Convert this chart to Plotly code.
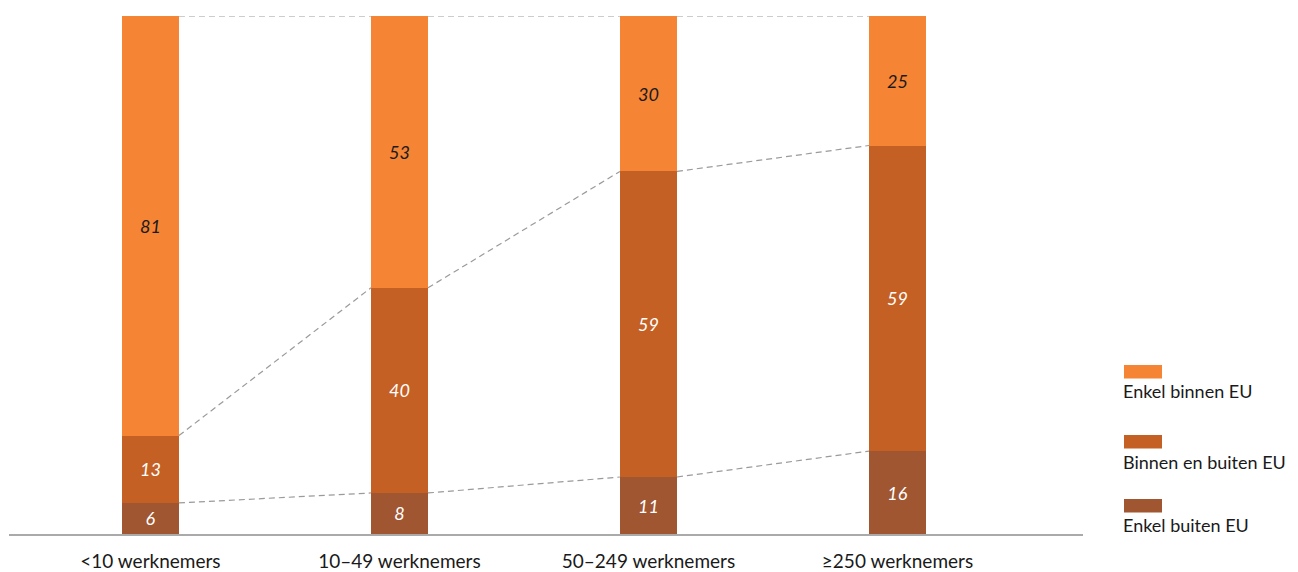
import plotly.graph_objects as go

categories = ["<10 werknemers", "10–49 werknemers", "50–249 werknemers", "≥250 werknemers"]
series_names = ["Enkel buiten EU", "Binnen en buiten EU", "Enkel binnen EU"]
enkel_buiten = [6, 8, 11, 16]
binnen_en_buiten = [13, 40, 59, 59]
enkel_binnen = [81, 53, 30, 25]

colors = {"Enkel buiten EU": "#A05631", "Binnen en buiten EU": "#C56024", "Enkel binnen EU": "#F58435"}
label_colors = {"Enkel buiten EU": "white", "Binnen en buiten EU": "white", "Enkel binnen EU": "#1a1a1a"}

series = [enkel_buiten, binnen_en_buiten, enkel_binnen]
totals = [sum(v) for v in zip(*series)]
norm = [[v / t * 100 for v, t in zip(s, totals)] for s in series]

FONT = "Lato"
W, H = 1298, 572
OFF = 8  # page body margin offset
ML, MR, MT, MB = 1, 223, 8, 46
BW = 0.229
xs = list(range(len(categories)))

fig = go.Figure()
for name, vals, nvals in zip(series_names, series, norm):
    fig.add_trace(go.Bar(
        x=xs, y=nvals, name=name, width=BW,
        marker=dict(color=colors[name], line=dict(width=0)),
        text=[str(v) for v in vals], textposition="inside", insidetextanchor="middle",
        textangle=0,
        textfont=dict(family=FONT, size=18, color=label_colors[name], style="italic"),
        hoverinfo="skip", showlegend=False,
    ))

# dashed connectors between cumulative boundaries
cum = []
run = [0] * len(categories)
for nvals in norm:
    run = [r + v for r, v in zip(run, nvals)]
    cum.append(list(run))
for level in cum:
    for i in range(len(categories) - 1):
        fig.add_trace(go.Scatter(
            x=[xs[i] + BW / 2, xs[i + 1] - BW / 2], y=[level[i], level[i + 1]],
            mode="lines", line=dict(color="#9a9a9a", width=1.2, dash="6px,4px"),
            hoverinfo="skip", showlegend=False, cliponaxis=False,
        ))

fig.update_layout(
    width=W, height=H, barmode="stack",
    margin=dict(l=ML, r=MR, t=MT, b=MB),
    plot_bgcolor="white", paper_bgcolor="white",
    font=dict(family=FONT, size=19, color="#1a1a1a"),
    xaxis=dict(range=[-0.568, 3.745], tickvals=xs, ticktext=categories, ticks="",
               ticklabelstandoff=9,
               showgrid=False, zeroline=False, showline=True, linecolor="#aaaaaa", linewidth=1.5,
               tickfont=dict(family=FONT, size=19, color="#1a1a1a")),
    yaxis=dict(range=[0, 100], visible=False, showgrid=False, zeroline=False),
)

# custom legend: swatch above label (positions given in screen pixels)
plot_w = W - ML - MR
plot_h = H - MT - MB
def px(x):
    return (x - OFF - ML) / plot_w
def py(y):
    return (H - MB - (y - OFF)) / plot_h

legend_items = [("Enkel binnen EU", 365, 391), ("Binnen en buiten EU", 435, 462), ("Enkel buiten EU", 499, 525)]
for name, sy, ty in legend_items:
    fig.add_shape(type="rect", xref="paper", yref="paper",
                  x0=px(1124), x1=px(1162), y0=py(sy + 13.5), y1=py(sy),
                  fillcolor=colors[name], line=dict(width=0))
    fig.add_annotation(xref="paper", yref="paper", x=px(1121), y=py(ty), text=name,
                       showarrow=False, xanchor="left", yanchor="middle",
                       font=dict(family=FONT, size=18, color="#1a1a1a"))

fig.write_html("out.html")
